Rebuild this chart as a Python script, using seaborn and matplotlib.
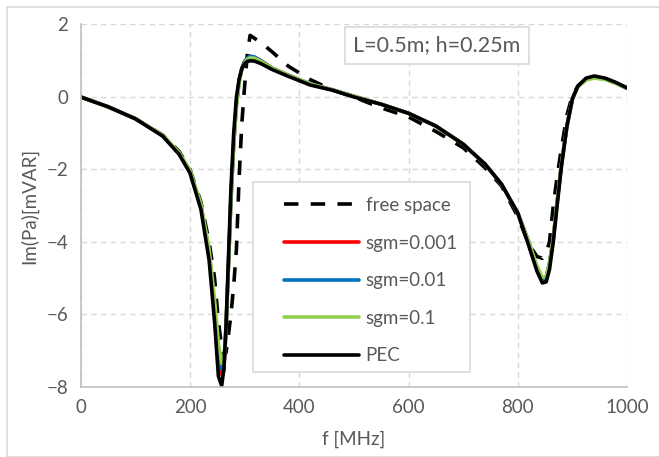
import numpy as np
import pandas as pd
import matplotlib
matplotlib.use("Agg")
import matplotlib.pyplot as plt
from matplotlib.patches import Rectangle
import seaborn as sns

# Frequency grid (MHz) and reactive power Im(Pa) in mVAR for each configuration
freq = [0, 50, 100, 150, 180, 200, 220, 235, 245, 252, 258, 262, 266, 270, 275,
        280, 285, 290, 295, 300, 305, 310, 318, 330, 350, 380, 420, 460, 500,
        550, 600, 650, 700, 740, 770, 800, 820, 835, 845, 852, 858, 865, 872,
        880, 890, 900, 910, 925, 940, 960, 980, 1000]

free_space = [0, -0.27, -0.6, -1.05, -1.5, -2.0, -2.9, -4.0, -5.0, -6.2, -6.9,
              -7.15, -7.05, -6.6, -6.0, -5.2, -4.2, -2.2, -0.7, 0.3, 1.2, 1.7,
              1.62, 1.5, 1.25, 0.85, 0.48, 0.2, 0.0, -0.3, -0.55, -0.95, -1.4,
              -1.95, -2.45, -3.3, -4.05, -4.4, -4.45, -4.3, -4.0, -3.0, -2.2,
              -1.4, -0.5, 0.05, 0.3, 0.48, 0.55, 0.5, 0.38, 0.25]

sgm_0001 = [0, -0.27, -0.6, -1.06, -1.55, -2.05, -3.0, -4.3, -5.8, -7.0, -7.65,
            -7.55, -6.4, -4.8, -2.8, -1.3, -0.2, 0.45, 0.8, 0.98, 1.07, 1.12,
            1.1, 1.0, 0.8, 0.6, 0.36, 0.2, 0.02, -0.2, -0.45, -0.8, -1.3,
            -1.85, -2.4, -3.2, -4.0, -4.7, -5.05, -5.0, -4.6, -3.9, -2.9,
            -1.85, -0.8, -0.05, 0.3, 0.5, 0.55, 0.5, 0.38, 0.24]

sgm_001 = [0, -0.27, -0.6, -1.06, -1.55, -2.05, -3.0, -4.3, -5.8, -7.0, -7.5,
           -7.45, -6.4, -4.8, -2.8, -1.3, -0.2, 0.45, 0.8, 0.98, 1.07, 1.13,
           1.1, 1.0, 0.8, 0.6, 0.36, 0.2, 0.02, -0.2, -0.45, -0.8, -1.3,
           -1.85, -2.4, -3.2, -4.0, -4.7, -5.03, -4.98, -4.6, -3.9, -2.9,
           -1.85, -0.8, -0.05, 0.3, 0.5, 0.55, 0.5, 0.38, 0.24]

sgm_01 = [0, -0.27, -0.6, -1.05, -1.53, -2.02, -2.95, -4.2, -5.6, -6.8, -7.35,
          -7.3, -6.3, -4.8, -2.8, -1.3, -0.25, 0.4, 0.75, 0.95, 1.04, 1.08,
          1.07, 0.98, 0.8, 0.6, 0.36, 0.2, 0.02, -0.2, -0.45, -0.8, -1.3,
          -1.85, -2.4, -3.2, -4.0, -4.65, -4.98, -4.95, -4.6, -3.9, -2.9,
          -1.85, -0.8, -0.05, 0.28, 0.47, 0.52, 0.48, 0.37, 0.24]

pec = [0, -0.27, -0.6, -1.08, -1.58, -2.1, -3.1, -4.5, -6.2, -7.7, -7.97, -7.5,
       -6.3, -4.6, -2.5, -1.0, 0.0, 0.5, 0.78, 0.92, 0.98, 1.0, 0.99, 0.92,
       0.76, 0.57, 0.33, 0.19, 0.0, -0.2, -0.45, -0.8, -1.3, -1.85, -2.4, -3.2,
       -4.1, -4.8, -5.13, -5.1, -4.76, -4.0, -3.0, -1.9, -0.8, -0.05, 0.3,
       0.52, 0.58, 0.52, 0.4, 0.25]

series_names = ["free space", "sgm=0.001", "sgm=0.01", "sgm=0.1", "PEC"]
series_values = [free_space, sgm_0001, sgm_001, sgm_01, pec]
series_colors = ["black", "#FF0000", "#0070C0", "#92D050", "black"]

x_ticks = [0, 200, 400, 600, 800, 1000]
y_ticks = [-8, -6, -4, -2, 0, 2]

df = pd.concat(
    [pd.DataFrame({"f": freq, "v": vals, "series": name})
     for name, vals in zip(series_names, series_values)],
    ignore_index=True,
)

sns.set_theme(style="white")
plt.rcParams["font.family"] = ["Lato", "DejaVu Sans"]
text_color = "#595959"
grid_color = "#D9D9D9"

W, H = 659, 457
fig = plt.figure(figsize=(W / 100, H / 100), dpi=100)
ax = fig.add_axes([0.1225, 0.1532, 0.829, 0.7932])

for name, color in zip(series_names, series_colors):
    sub = df[df["series"] == name]
    dashed = name == "free space"
    sns.lineplot(data=sub, x="f", y="v", ax=ax, color=color, label=name,
                 linewidth=2.6, sort=False, estimator=None,
                 linestyle=(0, (4.0, 3.4)) if dashed else "-")

ax.set_xlim(0, 1000)
ax.set_ylim(-8, 2)
ax.set_xticks(x_ticks)
ax.set_yticks(y_ticks)
ax.grid(True, color=grid_color, linestyle=(0, (4, 3)), linewidth=1.0)
ax.set_axisbelow(True)
for side in ["top", "right"]:
    ax.spines[side].set_visible(False)
for side in ["left", "bottom"]:
    ax.spines[side].set_color("#BFBFBF")
    ax.spines[side].set_linewidth(1.2)
ax.tick_params(axis="both", colors=text_color, labelsize=13.5, length=0, pad=9)
ax.set_xlabel("f [MHz]", color=text_color, fontsize=13.5, labelpad=10)
ax.set_ylabel("Im(Pa)[mVAR]", color=text_color, fontsize=13.5, labelpad=6)

# legend box drawn separately so the entries can sit inset from its left edge
def px_to_axes(px, py):
    inv = ax.transAxes.inverted()
    return inv.transform(fig.transFigure.transform((px / W, 1 - py / H)))

x0, y0 = px_to_axes(252.5, 372)
x1, y1 = px_to_axes(470, 182)
ax.add_patch(Rectangle((x0, y0), x1 - x0, y1 - y0, transform=ax.transAxes,
                       facecolor="white", edgecolor=grid_color, linewidth=1.2,
                       zorder=4))
lx, ly = px_to_axes(284, 197)
leg = ax.legend(loc="upper left", bbox_to_anchor=(lx, ly),
                frameon=False, fontsize=13.5,
                handlelength=4.0, labelspacing=1.1, borderpad=0.0,
                handletextpad=0.35, borderaxespad=0)
leg.set_zorder(5)
for t in leg.get_texts():
    t.set_color(text_color)

ax.text(0.652, 0.943, "L=0.5m; h=0.25m", transform=ax.transAxes,
        ha="center", va="center", fontsize=15.5, color=text_color,
        bbox=dict(boxstyle="square,pad=0.4", facecolor="white",
                  edgecolor=grid_color, linewidth=1.2))

# outer chart-area border
fig.patches.append(Rectangle((7 / W, 0.0), 1.2, 1 - 7 / H,
                             transform=fig.transFigure, fill=False,
                             edgecolor=grid_color, linewidth=1.2))

fig.savefig("out.png", dpi=100)
